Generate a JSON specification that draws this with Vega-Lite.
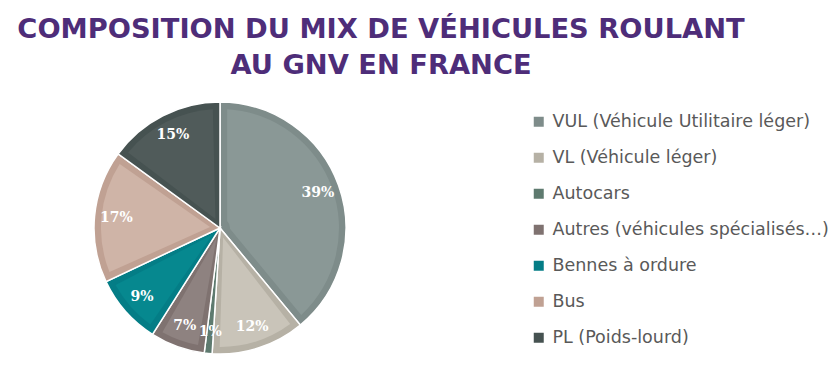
{
  "$schema": "https://vega.github.io/schema/vega-lite/v6.json",
  "width": 440,
  "height": 276,
  "autosize": {"type": "none"},
  "padding": {"top": 90, "left": 0, "right": 395, "bottom": 1},
  "background": "white",
  "title": {
    "text": ["COMPOSITION DU MIX DE VÉHICULES ROULANT", "AU GNV EN FRANCE"],
    "anchor": "start",
    "frame": "group",
    "align": "center",
    "dx": 381,
    "offset": 11,
    "font": "DejaVu Sans",
    "fontWeight": "bold",
    "fontSize": 27.3,
    "lineHeight": 36,
    "color": "#4E2D79"
  },
  "data": {
    "values": [
      {"idx": 1, "cat": "VUL (Véhicule Utilitaire léger)", "pct": 39, "label": "39%"},
      {"idx": 2, "cat": "VL (Véhicule léger)", "pct": 12, "label": "12%"},
      {"idx": 3, "cat": "Autocars", "pct": 1, "label": "1%"},
      {"idx": 4, "cat": "Autres (véhicules spécialisés…)", "pct": 7, "label": "7%"},
      {"idx": 5, "cat": "Bennes à ordure", "pct": 9, "label": "9%"},
      {"idx": 6, "cat": "Bus", "pct": 17, "label": "17%"},
      {"idx": 7, "cat": "PL (Poids-lourd)", "pct": 15, "label": "15%"}
    ]
  },
  "encoding": {
    "theta": {"field": "pct", "type": "quantitative", "stack": true},
    "order": {"field": "idx", "type": "quantitative"}
  },
  "layer": [
    {
      "mark": {"type": "arc", "outerRadius": 126, "stroke": "white", "strokeWidth": 1.5},
      "encoding": {
        "color": {
          "field": "cat",
          "type": "nominal",
          "sort": null,
          "scale": {
            "domain": ["VUL (Véhicule Utilitaire léger)", "VL (Véhicule léger)", "Autocars", "Autres (véhicules spécialisés…)", "Bennes à ordure", "Bus", "PL (Poids-lourd)"],
            "range": ["#7E8C8A", "#B6B1A5", "#5E7A6F", "#7F7270", "#047D86", "#C0A193", "#465251"]
          },
          "legend": {
            "orient": "none",
            "legendX": 530,
            "legendY": 23,
            "title": null,
            "symbolType": "square",
            "symbolSize": 100,
            "symbolStrokeWidth": 0,
            "labelFont": "DejaVu Sans",
            "labelFontSize": 17.5,
            "labelColor": "#595959",
            "labelLimit": 400,
            "labelOffset": 5,
            "rowPadding": 17
          }
        }
      }
    },
    {
      "mark": {"type": "arc", "outerRadius": 119, "innerRadius": 10, "padAngle": 0.12},
      "encoding": {
        "fill": {
          "field": "cat",
          "type": "nominal",
          "sort": null,
          "scale": {
            "domain": ["VUL (Véhicule Utilitaire léger)", "VL (Véhicule léger)", "Autocars", "Autres (véhicules spécialisés…)", "Bennes à ordure", "Bus", "PL (Poids-lourd)"],
            "range": ["#8A9896", "#C9C4B9", "#66827A", "#8E8280", "#06888F", "#CFB4A7", "#505B5A"]
          },
          "legend": null
        }
      }
    },
    {
      "mark": {"type": "text", "radius": 104, "font": "DejaVu Serif", "fontWeight": "bold", "fontSize": 14, "color": "white"},
      "encoding": {
        "text": {"field": "label", "type": "nominal"}
      }
    }
  ],
  "resolve": {"scale": {"fill": "independent", "color": "independent"}},
  "config": {"view": {"stroke": null}}
}
